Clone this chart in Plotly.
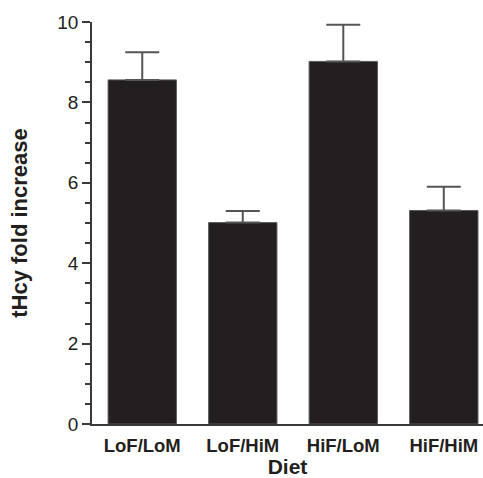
import plotly.graph_objects as go

categories = ["LoF/LoM", "LoF/HiM", "HiF/LoM", "HiF/HiM"]
fold_increase = [8.56, 5.01, 9.02, 5.31]
error_upper = [0.69, 0.29, 0.91, 0.59]
y_ticks = [0, 2, 4, 6, 8, 10]

dark = "#231f20"
fig = go.Figure(go.Bar(
    x=categories,
    y=fold_increase,
    width=0.68,
    marker=dict(color=dark, line=dict(color="#5a5a5a", width=1)),
    error_y=dict(type="data", symmetric=False, array=error_upper,
                 arrayminus=[0, 0, 0, 0], color="#555555", thickness=2, width=17),
))

font = "Liberation Sans, Arial, sans-serif"
fig.update_layout(
    width=483, height=478,
    margin=dict(l=92, r=0, t=22, b=54),
    plot_bgcolor="white", paper_bgcolor="white",
    showlegend=False,
    font=dict(family=font, color=dark),
    xaxis=dict(
        range=[-0.5, 3.39], showline=True, linecolor="#3a3a3a", linewidth=1.5,
        ticks="", showgrid=False, zeroline=False, ticklabelstandoff=4,
        tickfont=dict(size=18.5, family=font, color=dark, weight="bold"),
        title=dict(text="<b>Diet</b>", font=dict(size=21, family=font, color=dark), standoff=7),
    ),
    yaxis=dict(
        range=[0, 10], showline=True, linecolor="#3a3a3a", linewidth=1.5,
        tickvals=y_ticks, ticks="outside", ticklen=8, tickwidth=1.5, tickcolor="#3a3a3a",
        minor=dict(dtick=0.5, ticks="outside", ticklen=5, tickwidth=1.5, tickcolor="#3a3a3a"),
        showgrid=False, zeroline=False,
        tickfont=dict(size=19, family=font, color=dark),
        title=dict(text="<b>tHcy fold increase</b>", font=dict(size=22, family=font, color=dark), standoff=24),
    ),
)

fig.write_html("out.html", config={"displayModeBar": False},
               post_script="document.body.style.margin='0';document.body.style.overflow='hidden';")
